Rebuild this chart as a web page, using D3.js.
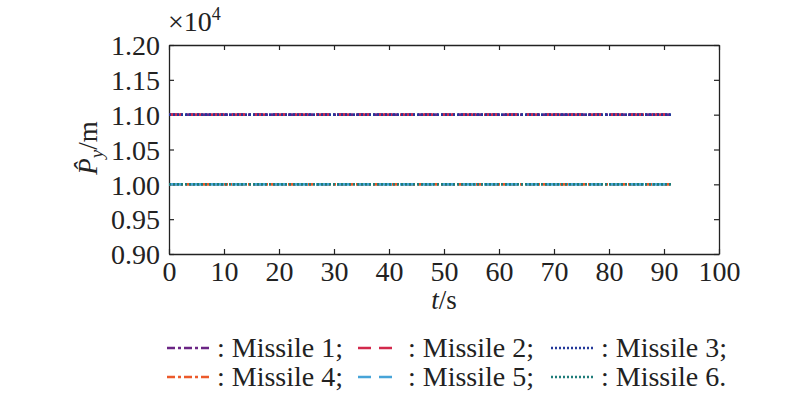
<!DOCTYPE html>
<html>
<head>
<meta charset="utf-8">
<script src="https://cdn.jsdelivr.net/npm/d3@7"></script>
<style>
  body { margin: 0; background: #fff; }
  svg { display: block; font-family: "Liberation Serif", "DejaVu Serif", serif; }
</style>
</head>
<body>
<svg id="chart"></svg>
<script>
// data
const time = [0, 91.5];
const missile1 = [11000, 11000];
const missile2 = [11000, 11000];
const missile3 = [11000, 11000];
const missile4 = [10000, 10000];
const missile5 = [10000, 10000];
const missile6 = [10000, 10000];
const seriesNames = ["Missile 1", "Missile 2", "Missile 3", "Missile 4", "Missile 5", "Missile 6"];
const xTicks = [0, 10, 20, 30, 40, 50, 60, 70, 80, 90, 100];
const yTicks = [9000, 9500, 10000, 10500, 11000, 11500, 12000];

const width = 800;
const height = 399;
const margin = { top: 45, right: 81, bottom: 145, left: 169 };
const w = width - margin.left - margin.right;
const h = height - margin.top - margin.bottom;

const series = [
  { name: seriesNames[0], values: missile1, color: "#6b2585", dash: "8,3,3,3" },
  { name: seriesNames[1], values: missile2, color: "#d2294c", dash: "13,8" },
  { name: seriesNames[2], values: missile3, color: "#23389a", dash: "2,2" },
  { name: seriesNames[3], values: missile4, color: "#ec5a2b", dash: "8,3,3,3" },
  { name: seriesNames[4], values: missile5, color: "#47a4d8", dash: "13,8" },
  { name: seriesNames[5], values: missile6, color: "#1e7c79", dash: "2,2" }
];

const svg = d3.select("#chart").attr("width", width).attr("height", height);
const g = svg.append("g").attr("transform", `translate(${margin.left},${margin.top})`);

const x = d3.scaleLinear().domain([0, 100]).range([0, w]);
const y = d3.scaleLinear().domain([9000, 12000]).range([h, 0]);

const fs = 28;

// axes, ticks pointing inward
const xAxis = g.append("g")
  .attr("transform", `translate(0,${h})`)
  .call(d3.axisBottom(x).tickValues(xTicks).tickSizeInner(-5).tickSizeOuter(0).tickPadding(8));
const xTop = g.append("g")
  .call(d3.axisTop(x).tickValues(xTicks).tickSizeInner(-5).tickSizeOuter(0).tickFormat(""));
const yAxis = g.append("g")
  .call(d3.axisLeft(y).tickValues(yTicks).tickSizeInner(-5).tickSizeOuter(0).tickPadding(9)
    .tickFormat(d => (d / 1e4).toFixed(2)));
const yRight = g.append("g")
  .attr("transform", `translate(${w},0)`)
  .call(d3.axisRight(y).tickValues(yTicks).tickSizeInner(-5).tickSizeOuter(0).tickFormat(""));

[xAxis, xTop, yAxis, yRight].forEach(a => {
  a.select(".domain").attr("stroke", "#222").attr("stroke-width", 1.3);
  a.selectAll(".tick line").attr("stroke", "#222").attr("stroke-width", 1.2);
  a.selectAll("text").attr("font-size", fs).attr("fill", "#222")
    .attr("font-family", "Liberation Serif");
});
xAxis.selectAll("text").attr("dy", "0.68em");
yAxis.selectAll("text").attr("dy", "0.35em");

// lines
const line = d3.line()
  .x((d, i) => x(time[i]))
  .y(d => y(d));

series.forEach(s => {
  g.append("path")
    .datum(s.values)
    .attr("fill", "none")
    .attr("stroke", s.color)
    .attr("stroke-width", 2.6)
    .attr("stroke-dasharray", s.dash)
    .attr("d", line);
});

// multiplier
const mult = svg.append("text")
  .attr("x", margin.left - 1)
  .attr("y", 31)
  .attr("font-size", fs)
  .attr("fill", "#222");
mult.append("tspan").text("×10");
mult.append("tspan").attr("font-size", 18).attr("dy", -11).text("4");

// x label
const xl = svg.append("text")
  .attr("x", margin.left + w / 2)
  .attr("y", 309)
  .attr("text-anchor", "middle")
  .attr("font-size", 27)
  .attr("fill", "#222");
xl.append("tspan").attr("font-style", "italic").text("t");
xl.append("tspan").text("/s");

// y label
const yl = svg.append("text")
  .attr("transform", "translate(97,148) rotate(-90)")
  .attr("text-anchor", "middle")
  .attr("font-size", 27)
  .attr("fill", "#222");
yl.append("tspan").attr("font-style", "italic").text("P\u0302");
yl.append("tspan").attr("font-style", "italic").attr("font-size", 19).attr("dy", 6).text("y");
yl.append("tspan").attr("dy", -6).text("/m");

// legend
const legX = [167, 358, 551];
const legY = [348, 377];
const legend = svg.append("g");
series.forEach((s, i) => {
  const lx = legX[i % 3];
  const ly = legY[Math.floor(i / 3)];
  legend.append("line")
    .attr("x1", lx).attr("x2", lx + 42)
    .attr("y1", ly).attr("y2", ly)
    .attr("stroke", s.color)
    .attr("stroke-width", 2.6)
    .attr("stroke-dasharray", s.dash);
  legend.append("text")
    .attr("x", lx + 50)
    .attr("y", ly + 9)
    .attr("font-size", fs)
    .attr("fill", "#222")
    .text(": " + s.name + (i === 5 ? "." : ";"));
});
</script>
</body>
</html>
